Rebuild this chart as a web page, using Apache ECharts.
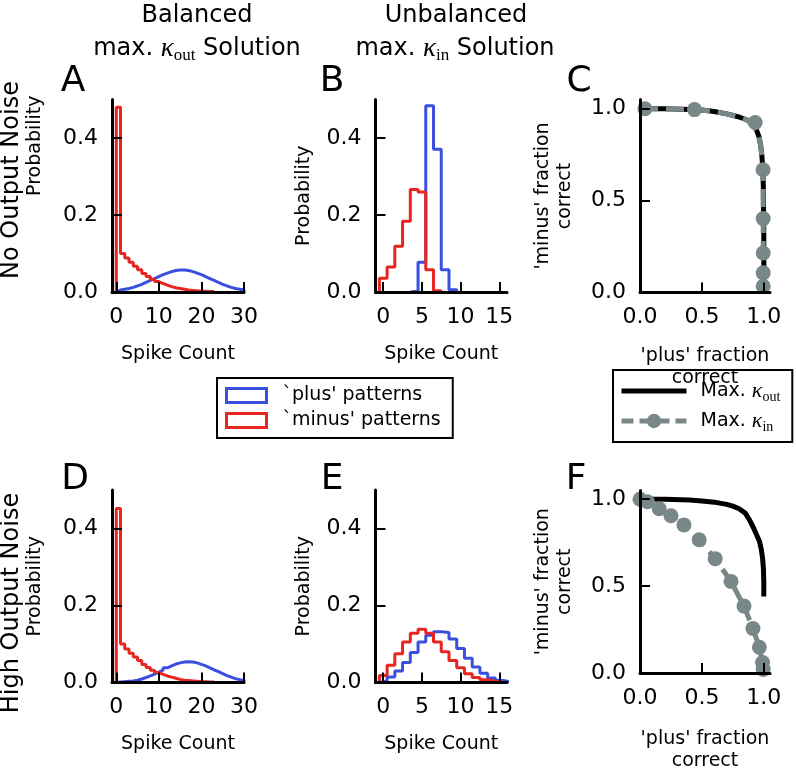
<!DOCTYPE html>
<html><head><meta charset="utf-8">
<script src="https://cdn.jsdelivr.net/npm/echarts@6/dist/echarts.min.js"></script>
<style>html,body{margin:0;padding:0;background:#fff}#c{width:796px;height:773px}</style>
</head><body><div id="c"></div>
<script>
// ---------- tick labels ----------
const countTicksWide = [0, 10, 20, 30];
const countTicksNarrow = [0, 5, 10, 15];
const probTicks = [0, 0.2, 0.4];
const fracTicks = [0, 0.5, 1.0];

// ---------- Panel A (balanced, no noise): bin left edges + probabilities ----------
const aPlusLeft = [0,1,2,3,4,5,6,7,8,9,10,11,12,13,14,15,16,17,18,19,20,21,22,23,24,25,26,27,28,29];
const aPlus = [0.005,0.007,0.009,0.012,0.016,0.020,0.025,0.030,0.035,0.040,0.045,0.049,0.053,0.056,0.057,0.057,0.056,0.053,0.049,0.045,0.040,0.035,0.030,0.025,0.020,0.016,0.012,0.009,0.007,0.005];
const aMinusLeft = [0,1,2,3,4,5,6,7,8,9,10,11,12,13,14,15,16,17,18,19,20,21,22];
const aMinus = [0.480,0.100,0.088,0.077,0.067,0.058,0.048,0.040,0.033,0.027,0.022,0.018,0.014,0.011,0.009,0.007,0.005,0.004,0.003,0.002,0.002,0.001,0.001];

// ---------- Panel B (unbalanced, no noise) ----------
const bPlusLeft = [3.5,4.5,5.5,6.5,7.5,8.5];
const bPlus = [0.002,0.077,0.484,0.371,0.058,0.006];
const bMinusLeft = [-0.5,0.5,1.5,2.5,3.5,4.5,5.5,6.5];
const bMinus = [0.036,0.065,0.119,0.184,0.266,0.260,0.058,0.003];

// ---------- Panel D (balanced, high noise) ----------
const dPlusLeft = [0,1,2,3,4,5,6,7,8,9,10,11,12,13,14,15,16,17,18,19,20,21,22,23,24,25,26,27,28,29];
const dPlus = [0.001,0.002,0.003,0.004,0.006,0.009,0.013,0.017,0.022,0.027,0.032,0.038,0.043,0.048,0.051,0.053,0.054,0.053,0.051,0.047,0.043,0.038,0.033,0.028,0.023,0.018,0.014,0.010,0.007,0.005];
const dMinusLeft = [0,1,2,3,4,5,6,7,8,9,10,11,12,13,14,15,16,17,18,19,20,21,22];
const dMinus = [0.452,0.100,0.087,0.076,0.066,0.057,0.047,0.039,0.032,0.026,0.021,0.017,0.014,0.011,0.008,0.006,0.005,0.004,0.003,0.002,0.002,0.001,0.001];

// ---------- Panel E (unbalanced, high noise) ----------
const ePlusLeft = [-0.5,0.5,1.5,2.5,3.5,4.5,5.5,6.5,7.5,8.5,9.5,10.5,11.5,12.5,13.5,14.5,15.5];
const ePlus = [0.004,0.014,0.030,0.052,0.078,0.105,0.123,0.132,0.130,0.113,0.088,0.063,0.040,0.024,0.012,0.005,0.002];
const eMinusLeft = [-0.5,0.5,1.5,2.5,3.5,4.5,5.5,6.5,7.5,8.5,9.5,10.5,11.5,12.5,13.5,14.5];
const eMinus = [0.018,0.045,0.075,0.105,0.128,0.138,0.128,0.105,0.080,0.057,0.038,0.023,0.013,0.007,0.003,0.001];

// ---------- Panel C (no noise): ['plus' fraction correct, 'minus' fraction correct] ----------
const cKoutCurve = [[0,1.0],[0.2,0.999],[0.4,0.996],[0.5,0.993],[0.6,0.985],[0.7,0.972],[0.8,0.955],[0.87,0.937],[0.91,0.915],[0.94,0.885],[0.96,0.85],[0.975,0.80],[0.985,0.74],[0.992,0.67],[0.996,0.58],[0.998,0.45],[1.0,0.30],[1.0,0.0]];
const cKinCurve = [[0,1.0],[0.2,0.999],[0.4,0.996],[0.5,0.993],[0.6,0.985],[0.7,0.972],[0.8,0.955],[0.87,0.937],[0.91,0.915],[0.94,0.885],[0.96,0.85],[0.975,0.80],[0.985,0.74],[0.992,0.67],[0.995,0.58],[0.995,0.40],[0.995,0.20],[0.995,0.0]];
const cKinMarkers = [[0.04,1.0],[0.44,0.995],[0.93,0.925],[0.994,0.668],[0.995,0.402],[0.995,0.215],[0.995,0.107],[0.995,0.034]];

// ---------- Panel F (high noise) ----------
const fKoutCurve = [[0,1.0],[0.2,0.999],[0.4,0.995],[0.5,0.99],[0.6,0.983],[0.7,0.97],[0.75,0.96],[0.8,0.945],[0.85,0.92],[0.885,0.88],[0.92,0.83],[0.945,0.79],[0.964,0.76],[0.98,0.71],[0.99,0.66],[0.997,0.60],[1.0,0.52],[1.0,0.44]];
const fKinPoints = [[0.0,1.0],[0.06,0.985],[0.155,0.945],[0.25,0.905],[0.355,0.852],[0.478,0.767],[0.607,0.658],[0.735,0.527],[0.84,0.385],[0.912,0.256],[0.964,0.148],[0.99,0.06],[0.995,0.02]];

// ---------- styling ----------
const BLUE = '#3a4fe0', RED = '#e6261f', GREY = '#788787';
const FONT = 'DejaVu Sans';
const PLUS = "`plus' patterns", MINUS = "`minus' patterns";
const KOUT = 'Max. kout', KIN = 'Max. kin';

function stepData(lefts, vals) {
  const n = lefts.length, d = [[lefts[0], 0]];
  for (let i = 0; i < n; i++) d.push([lefts[i], vals[i]]);
  const right = lefts[n - 1] + 1;
  d.push([right, vals[n - 1]]);
  d.push([right, 0]);
  return d;
}
function hist(name, gi, lefts, vals, color) {
  return { name, type: 'line', xAxisIndex: gi, yAxisIndex: gi, step: 'end', symbol: 'none',
    data: stepData(lefts, vals), lineStyle: { color, width: 3 }, itemStyle: { color }, z: 3, clip: false };
}
const fmt1 = v => Number(v).toFixed(1);
const fmt0 = v => String(Math.round(v));

function axisCommon(ticks, fmt, isY) {
  return {
    type: 'value', z: 6,
    axisLine: { show: true, onZero: false, lineStyle: { color: '#000', width: 3 } },
    axisTick: { show: true, inside: true, length: 10, customValues: ticks, lineStyle: { color: '#000', width: 2 } },
    axisLabel: { show: true, customValues: ticks, formatter: fmt, color: '#000', fontSize: 22, fontFamily: FONT, margin: isY ? 14 : 14 },
    splitLine: { show: false },
    nameLocation: 'middle',
    nameTextStyle: { color: '#000', fontSize: 19, fontFamily: FONT, lineHeight: 22 }
  };
}
function xAx(gi, min, max, ticks, fmt, name, gap) {
  return Object.assign(axisCommon(ticks, fmt, false), { gridIndex: gi, min, max, name, nameGap: gap });
}
function yAx(gi, min, max, ticks, fmt, name, gap, pad) {
  const a = Object.assign(axisCommon(ticks, fmt, true), { gridIndex: gi, min, max, name, nameGap: gap, nameRotate: 90 });
  if (pad) a.nameTextStyle = Object.assign({}, a.nameTextStyle, { padding: pad });
  return a;
}

const titleRich = {
  k: { fontFamily: 'Liberation Serif', fontStyle: 'italic', fontSize: 27, lineHeight: 30 },
  s: { fontFamily: 'Liberation Serif', fontSize: 17, lineHeight: 17, verticalAlign: 'bottom' }
};
function txt(x, y, text, size, extra) {
  return Object.assign({ type: 'text', x, y, z: 10,
    style: { text, fill: '#000', font: size + 'px "' + FONT + '"', fontSize: size, fontFamily: FONT,
      align: 'center', verticalAlign: 'middle', textAlign: 'center', textVerticalAlign: 'middle', lineHeight: 30, rich: titleRich } }, extra || {});
}

const option = {
  animation: false,
  backgroundColor: '#fff',
  grid: [
    { left: 112, top: 99.5, width: 132, height: 192.5 },
    { left: 375.5, top: 99.5, width: 131.5, height: 192.5 },
    { left: 640, top: 99.5, width: 130, height: 193 },
    { left: 112, top: 490, width: 132, height: 192.5 },
    { left: 375.5, top: 490, width: 131.5, height: 192.5 },
    { left: 640, top: 490.5, width: 130, height: 192.5 }
  ],
  xAxis: [
    xAx(0, -1, 30, countTicksWide, fmt0, 'Spike Count', 51),
    xAx(1, -1, 16, countTicksNarrow, fmt0, 'Spike Count', 51),
    xAx(2, 0, 1.05, fracTicks, fmt1, "'plus' fraction\ncorrect", 53),
    xAx(3, -1, 30, countTicksWide, fmt0, 'Spike Count', 51),
    xAx(4, -1, 16, countTicksNarrow, fmt0, 'Spike Count', 51),
    xAx(5, 0, 1.05, fracTicks, fmt1, "'plus' fraction\ncorrect", 55)
  ],
  yAxis: [
    yAx(0, 0, 0.5, probTicks, fmt1, 'Probability', 66, [0, 0, 0, 100]),
    yAx(1, 0, 0.5, probTicks, fmt1, 'Probability', 60),
    yAx(2, 0, 1.05, fracTicks, fmt1, "'minus' fraction\ncorrect", 64),
    yAx(3, 0, 0.5, probTicks, fmt1, 'Probability', 66),
    yAx(4, 0, 0.5, probTicks, fmt1, 'Probability', 60),
    yAx(5, 0, 1.05, fracTicks, fmt1, "'minus' fraction\ncorrect", 64)
  ],
  legend: [
    { orient: 'vertical', left: 217, top: 378, selectedMode: false,
      backgroundColor: '#fff', borderColor: '#000', borderWidth: 2, borderRadius: 0,
      padding: [8, 12, 8, 8], itemWidth: 40, itemHeight: 14, itemGap: 6,
      textStyle: { color: '#000', fontSize: 19, fontFamily: FONT, padding: [0, 0, 0, 11] },
      data: [
        { name: PLUS, icon: 'rect', itemStyle: { color: 'rgba(0,0,0,0)', borderColor: BLUE, borderWidth: 3 } },
        { name: MINUS, icon: 'rect', itemStyle: { color: 'rgba(0,0,0,0)', borderColor: RED, borderWidth: 3 } }
      ] },
    { orient: 'vertical', left: 613, top: 370, selectedMode: false,
      backgroundColor: '#fff', borderColor: '#000', borderWidth: 2, borderRadius: 0,
      padding: [8, 12, 8, 6], itemWidth: 65, itemHeight: 18, itemGap: 4,
      formatter: n => n === KOUT ? 'Max. {k|κ}{s|out}' : 'Max. {k|κ}{s|in}',
      textStyle: { color: '#000', fontSize: 19, fontFamily: FONT, lineHeight: 26, padding: [0, 0, 0, 9],
        rich: { k: { fontFamily: 'Liberation Serif', fontStyle: 'italic', fontSize: 22, lineHeight: 26 },
                s: { fontFamily: 'Liberation Serif', fontSize: 14, lineHeight: 14, verticalAlign: 'bottom' } } },
      data: [
        { name: KOUT, itemStyle: { color: 'rgba(0,0,0,0)', borderWidth: 0, opacity: 0 }, lineStyle: { color: '#000', width: 5 } },
        { name: KIN, itemStyle: { color: GREY, borderWidth: 0 }, lineStyle: { color: GREY, width: 5, type: [12, 6] } }
      ] }
  ],
  series: [
    hist(PLUS, 0, aPlusLeft, aPlus, BLUE), hist(MINUS, 0, aMinusLeft, aMinus, RED),
    hist(PLUS, 1, bPlusLeft, bPlus, BLUE), hist(MINUS, 1, bMinusLeft, bMinus, RED),
    hist(PLUS, 3, dPlusLeft, dPlus, BLUE), hist(MINUS, 3, dMinusLeft, dMinus, RED),
    hist(PLUS, 4, ePlusLeft, ePlus, BLUE), hist(MINUS, 4, eMinusLeft, eMinus, RED),
    { name: KOUT, type: 'line', xAxisIndex: 2, yAxisIndex: 2, data: cKoutCurve, symbol: 'none', clip: false,
      lineStyle: { color: '#000', width: 5 }, itemStyle: { color: '#000' }, z: 3 },
    { name: KIN, type: 'line', xAxisIndex: 2, yAxisIndex: 2, data: cKinCurve, symbol: 'none', clip: false,
      lineStyle: { color: GREY, width: 5, type: [18, 8] }, itemStyle: { color: GREY }, z: 4 },
    { name: KIN, type: 'scatter', xAxisIndex: 2, yAxisIndex: 2, data: cKinMarkers, symbol: 'circle', symbolSize: 15, clip: false,
      itemStyle: { color: GREY, opacity: 1 }, z: 5 },
    { name: KOUT, type: 'line', xAxisIndex: 5, yAxisIndex: 5, data: fKoutCurve, symbol: 'none', clip: false,
      lineStyle: { color: '#000', width: 5 }, itemStyle: { color: '#000' }, z: 3 },
    { name: KIN, type: 'line', xAxisIndex: 5, yAxisIndex: 5, data: fKinPoints, symbol: 'none', clip: false,
      lineStyle: { color: GREY, width: 5, type: [14, 8] }, itemStyle: { color: GREY }, z: 4 },
    { name: KIN, type: 'scatter', xAxisIndex: 5, yAxisIndex: 5, data: fKinPoints, symbol: 'circle', symbolSize: 15, clip: false,
      itemStyle: { color: GREY, opacity: 1 }, z: 5 }
  ],
  graphic: [
    txt(197, 16, 'Balanced', 24),
    txt(197, 49, 'max. {k|κ}{s|out} Solution', 24),
    txt(456, 16, 'Unbalanced', 24),
    txt(455, 49, 'max. {k|κ}{s|in} Solution', 24),
    txt(12, 180, 'No Output Noise', 24, { rotation: Math.PI / 2 }),
    txt(12, 603, 'High Output Noise', 24, { rotation: Math.PI / 2 }),
    txt(73, 82, 'A', 36), txt(332, 82, 'B', 36), txt(579, 82, 'C', 36),
    txt(75, 480, 'D', 36), txt(332, 480, 'E', 36), txt(576, 480, 'F', 36)
  ]
};
const chart = echarts.init(document.getElementById('c'), null, { renderer: 'canvas' });
chart.setOption(option);
</script>
</body></html>
